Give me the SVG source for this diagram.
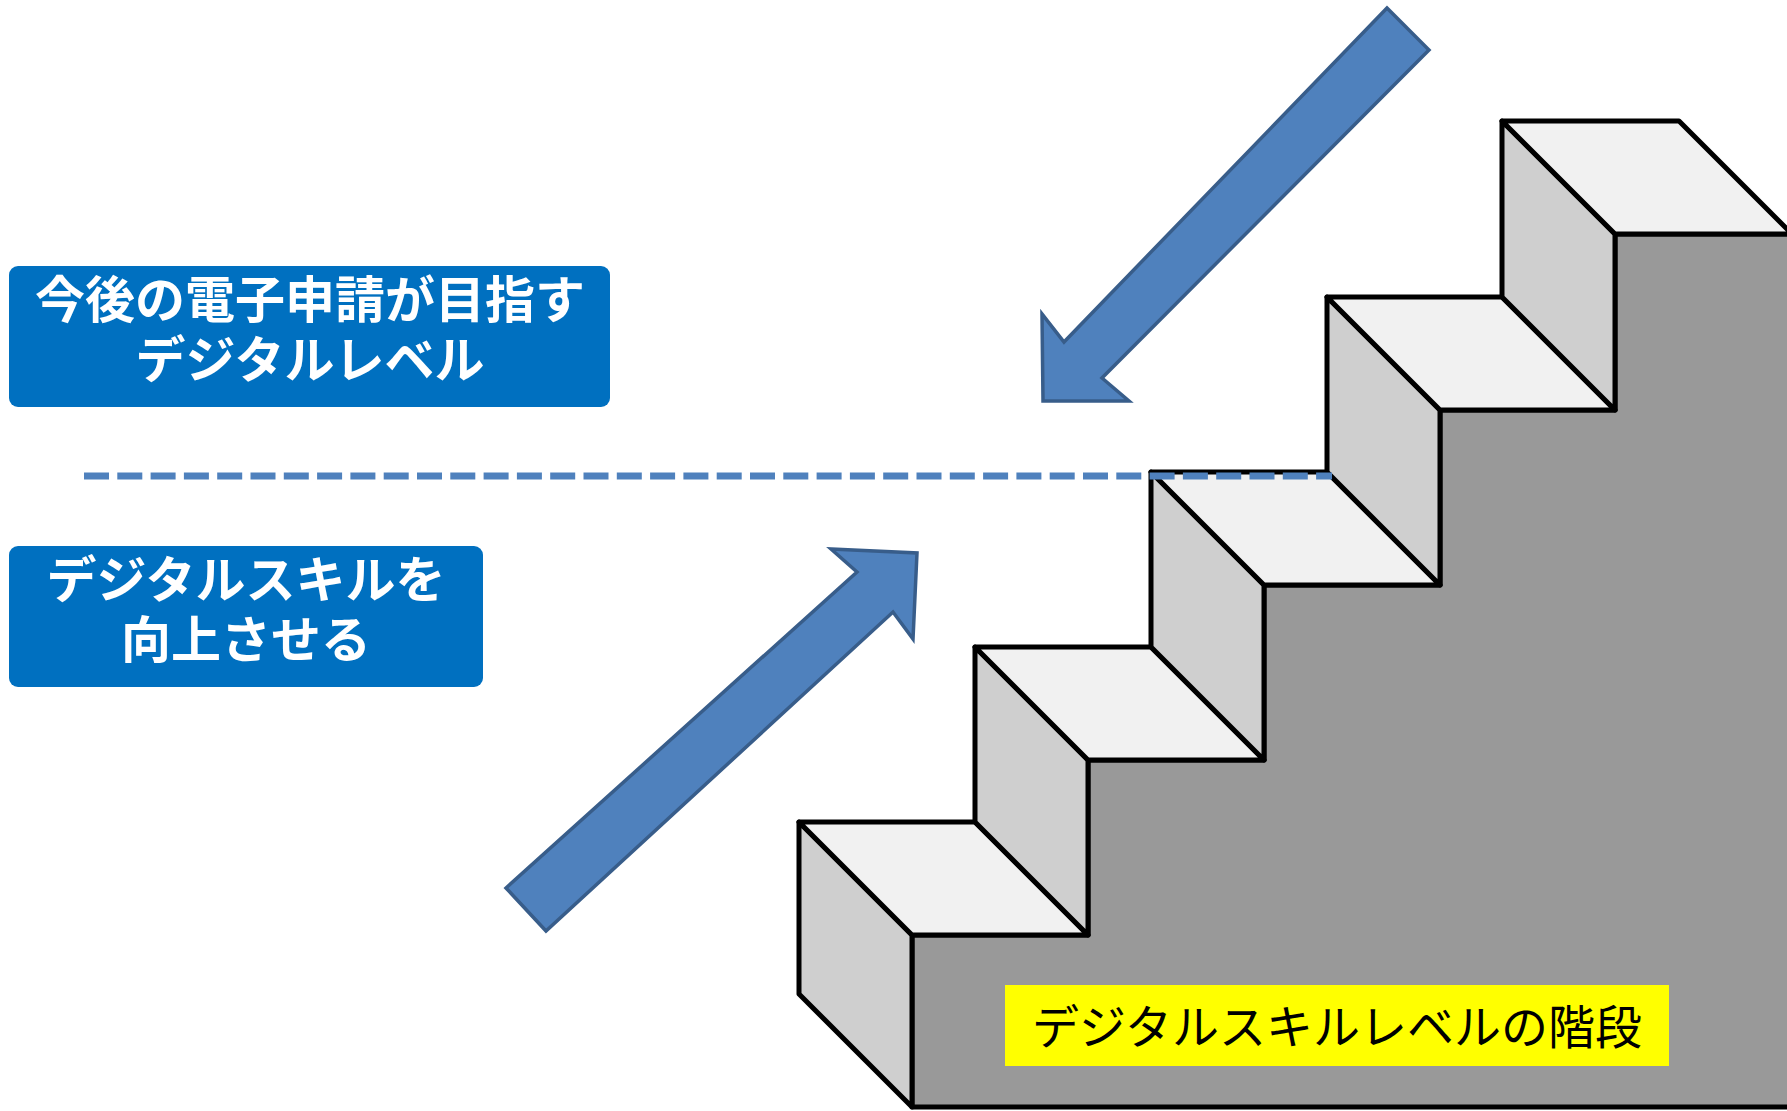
<svg xmlns="http://www.w3.org/2000/svg" width="1787" height="1111" viewBox="0 0 1787 1111">
<style>
.box{fill:#0070C0}
.btxt{font-family:"Noto Sans CJK JP","Noto Sans",sans-serif;font-weight:700;font-size:50px;fill:#FFFFFF;text-anchor:middle}
.ltxt{font-family:"Noto Sans CJK JP","Noto Sans",sans-serif;font-weight:400;font-size:47px;fill:#000000;text-anchor:middle}
.st{stroke:#000000;stroke-width:5;stroke-linejoin:round}
.tread{fill:#F1F1F1}
.riser{fill:#CFCFCF}
.front{fill:#999999}
.arrow{fill:#4F81BD;stroke:#385D8A;stroke-width:3.5;stroke-linejoin:miter}
.dash{stroke:#4F81BD;stroke-width:7;stroke-dasharray:25 8.3;fill:none}
</style>
<rect width="1787" height="1111" fill="#FFFFFF"/>
<g id="stairs">
<polygon class="front st" points="912,935 1088,935 1088,760 1264,760 1264,585 1440,585 1440,410 1615,410 1615,234 1792,234 1792,1107 912,1107"/>
<polygon class="riser st" points="799,822 912,935 912,1107 799,994"/>
<polygon class="tread st" points="799,822 975,822 1088,935 912,935"/>
<polygon class="riser st" points="975,647 1088,760 1088,935 975,822"/>
<polygon class="tread st" points="975,647 1151,647 1264,760 1088,760"/>
<polygon class="riser st" points="1151,472 1264,585 1264,760 1151,647"/>
<polygon class="tread st" points="1151,472 1327,472 1440,585 1264,585"/>
<polygon class="riser st" points="1327,297 1440,410 1440,585 1327,472"/>
<polygon class="tread st" points="1327,297 1502,297 1615,410 1440,410"/>
<polygon class="riser st" points="1502,121 1615,234 1615,410 1502,297"/>
<polygon class="tread st" points="1502,121 1679,121 1792,234 1615,234"/>
</g>
<g id="connectors">
<line class="dash" x1="84" y1="476" x2="1332" y2="476"/>
<polygon id="arrow-down" class="arrow" points="1387,8 1064,342 1042,314 1043,401 1129,401 1102,378 1429,50"/>
<polygon id="arrow-up" class="arrow" points="506,888 857,572 831,549 917,553 913,639 893,612 546,931"/>
</g>
<g id="box-target">
<rect class="box" x="9" y="266" width="601" height="141" rx="9"/>
<text class="btxt" x="310" y="318"><tspan x="310" y="318">今後の電子申請が目指す</tspan><tspan x="310" y="378">デジタルレベル</tspan></text>
</g>
<g id="box-improve">
<rect class="box" x="9" y="546" width="474" height="141" rx="9"/>
<text class="btxt" x="246" y="598"><tspan x="246" y="598">デジタルスキルを</tspan><tspan x="246" y="658">向上させる</tspan></text>
</g>
<g id="label-stairs">
<rect x="1005" y="985" width="664" height="81" fill="#FFFF00"/>
<text class="ltxt" x="1337" y="1044">デジタルスキルレベルの階段</text>
</g>
</svg>
